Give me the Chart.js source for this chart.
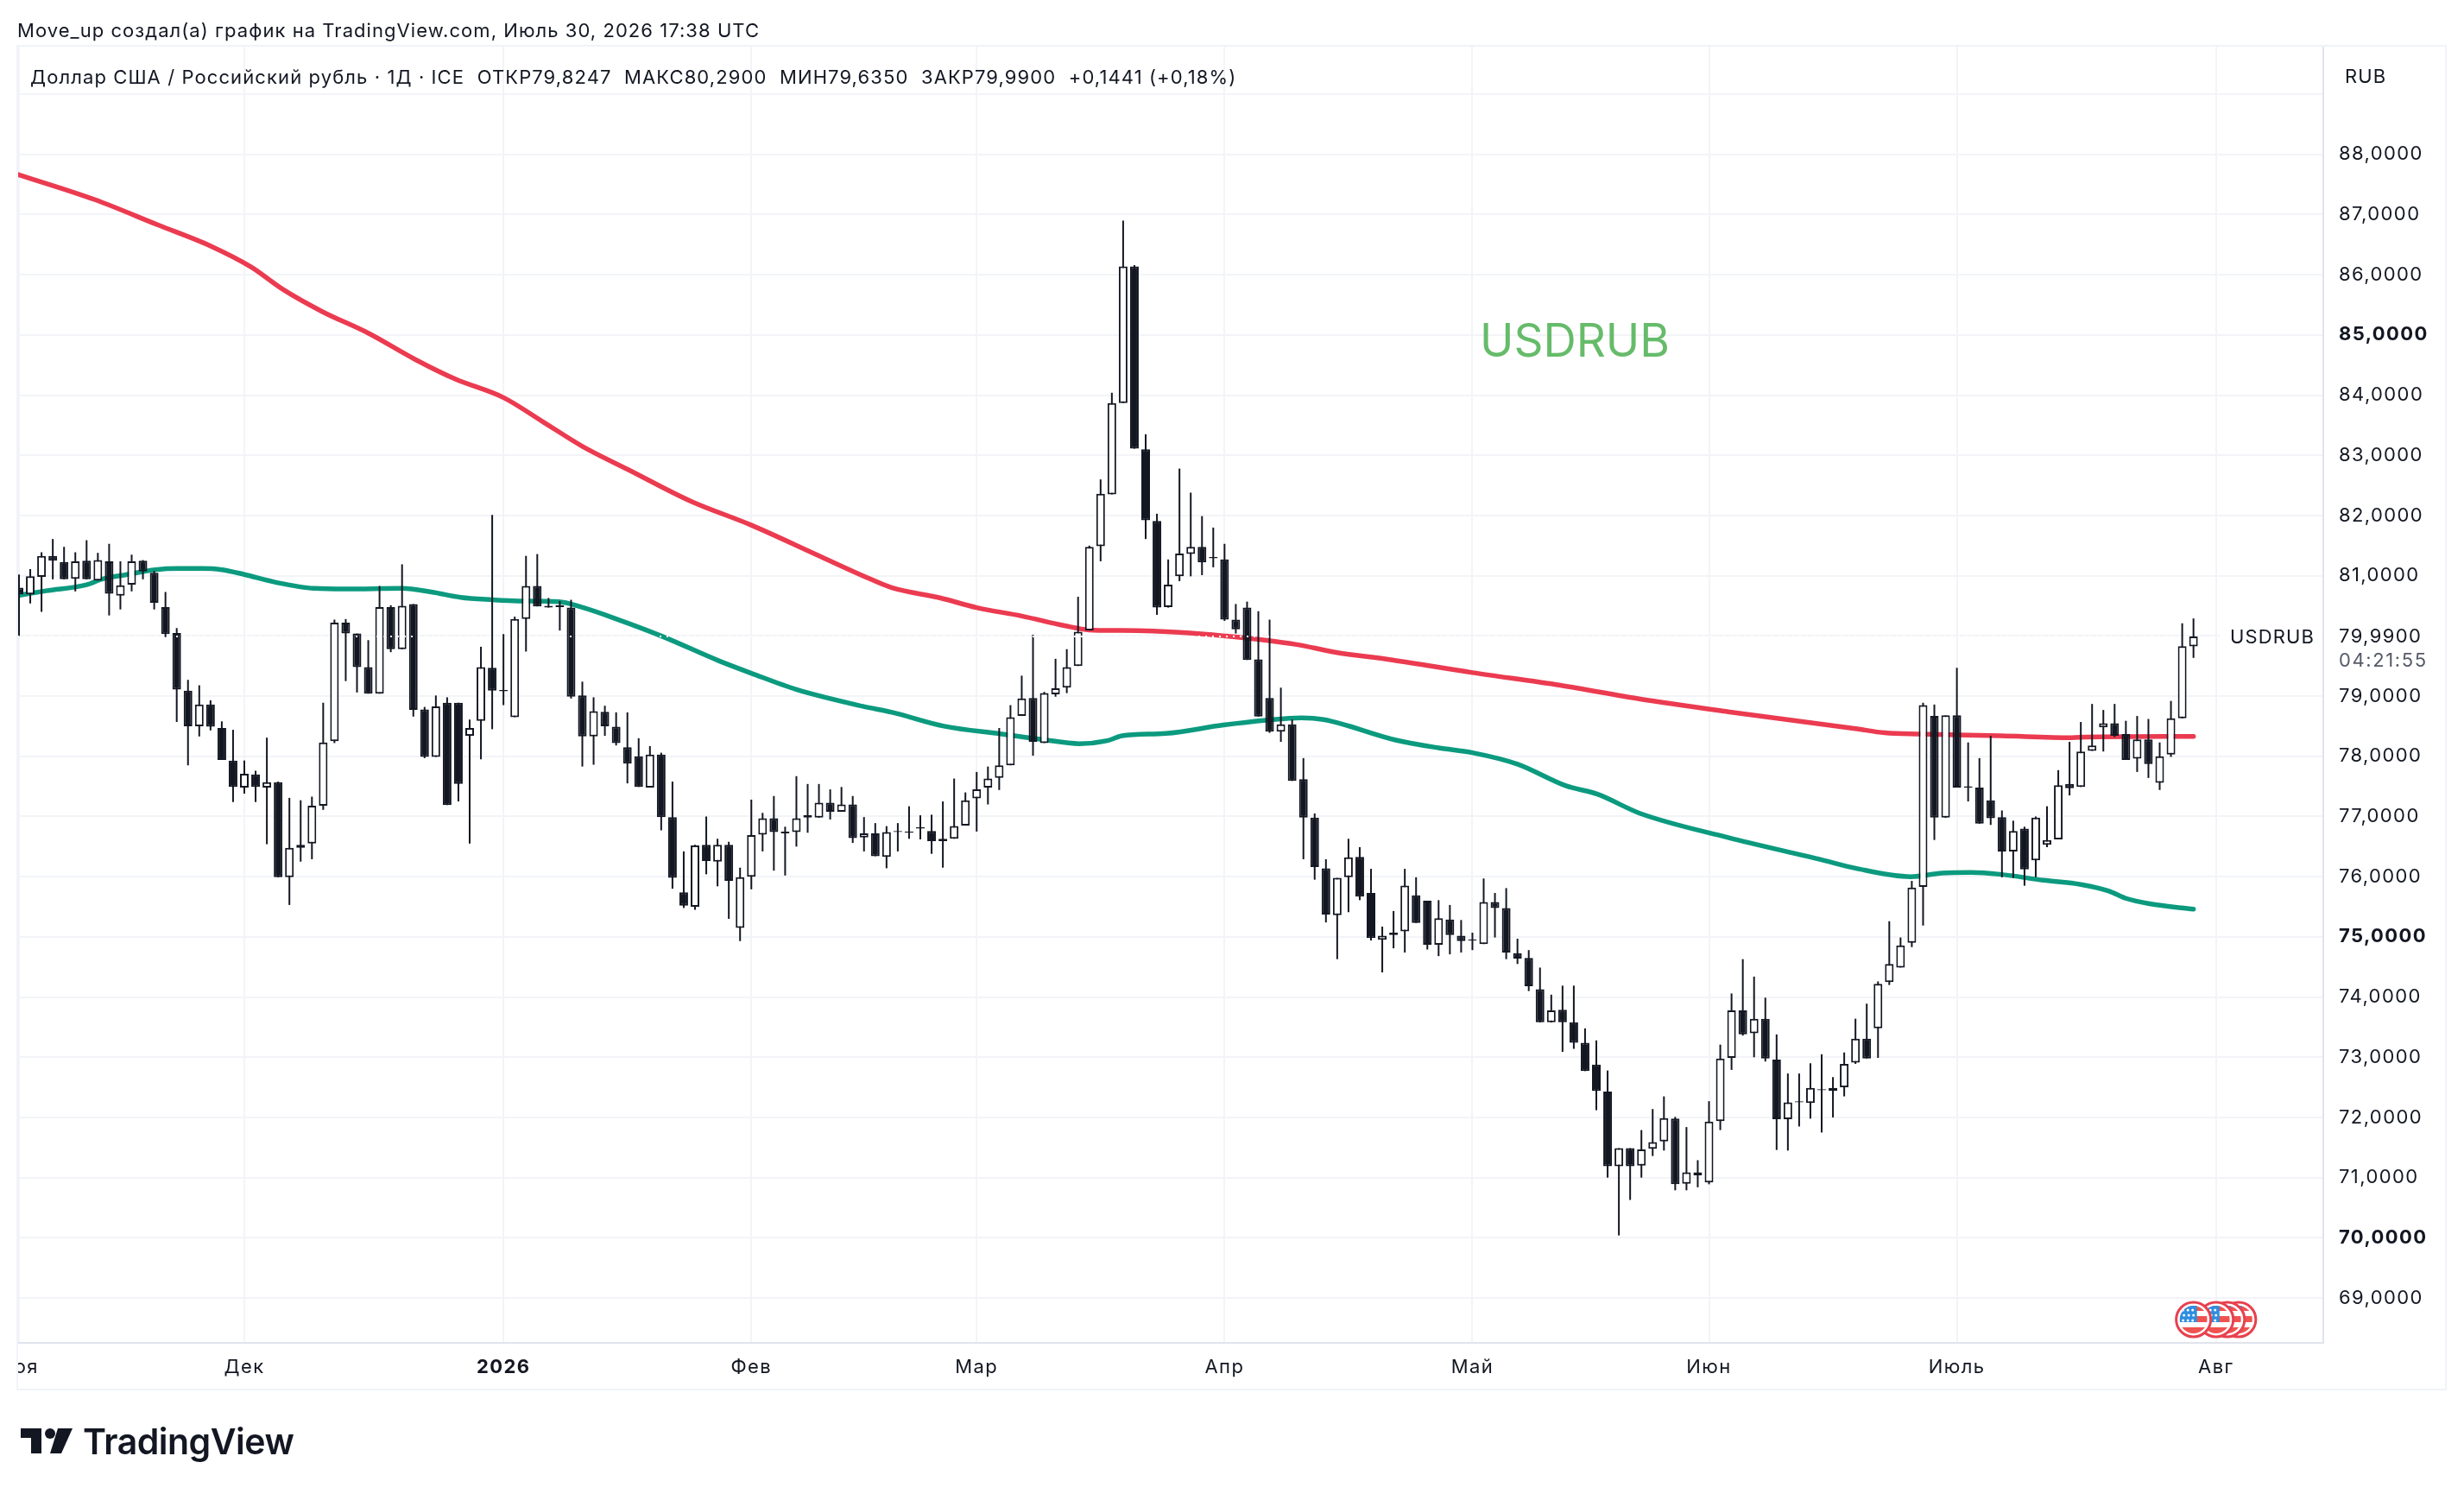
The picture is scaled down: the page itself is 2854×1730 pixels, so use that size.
<!DOCTYPE html>
<html lang="ru">
<head>
<meta charset="utf-8">
<title>USDRUB</title>
<script src="https://cdn.jsdelivr.net/npm/chart.js@4/dist/chart.umd.min.js"></script>
<style>
  html, body { margin: 0; padding: 0; background: #fff; }
  #stage { position: relative; width: 2854px; height: 1730px; overflow: hidden; font-family: Inter, sans-serif; color: #131722; }
  #chart { position: absolute; left: 0; top: 0; }
  .line { position: absolute; white-space: pre; font-size: 22px; line-height: 28px; letter-spacing: 1.05px; }
  #credit { left: 20px; top: 21px; }
  #legend { left: 35px; top: 75px; letter-spacing: 1.1px; }
  #unit { left: 2716px; top: 74px; }
  #wordmark { left: 96px; top: 1643px; font-size: 41px; line-height: 52px; font-weight: 600; letter-spacing: -0.5px; color: #131722; }
  #logo { position: absolute; left: 24px; top: 1654px; }
</style>
</head>
<body>
<div id="stage">
  <canvas id="chart" width="2854" height="1730"></canvas>
  <div class="line" id="credit">Move_up создал(а) график на TradingView.com, Июль 30, 2026 17:38 UTC</div>
  <div class="line" id="legend">Доллар США / Российский рубль · 1Д · ICE  ОТКР79,8247  МАКС80,2900  МИН79,6350  ЗАКР79,9900  +0,1441 (+0,18%)</div>
  <div class="line" id="unit">RUB</div>
  <svg id="logo" width="60" height="30" viewBox="0 0 60 30">
    <path fill="#131722" d="M0 0H24V29H12V11H0Z"/>
    <circle fill="#131722" cx="34" cy="6" r="6"/>
    <path fill="#131722" d="M43 0H60L47 29H34Z"/>
  </svg>
  <div class="line" id="wordmark">TradingView</div>
</div>
<script>
// Daily USD/RUB candles, one entry per trading session
const opens = [
  80.80,80.69,80.98,81.33,81.23,80.95,81.25,80.92,81.24,80.67,
  80.85,81.25,81.05,80.48,80.05,79.09,78.50,78.86,78.47,77.93,
  77.48,77.70,77.48,77.57,75.99,76.53,76.55,77.18,78.25,80.22,
  80.04,79.48,79.04,80.48,79.78,80.53,78.78,77.99,78.89,78.89,
  78.34,78.59,79.47,79.08,78.65,80.28,80.83,80.50,80.51,80.47,
  79.01,78.33,78.74,78.49,78.15,78.00,77.48,78.03,76.99,75.74,
  75.50,76.53,76.25,76.53,75.15,76.00,76.70,76.97,76.75,76.74,
  77.02,76.98,77.23,77.08,77.20,76.65,76.72,76.33,76.74,76.73,
  76.80,76.76,76.63,76.63,76.85,77.30,77.48,77.64,77.85,78.67,
  78.97,78.22,79.03,79.14,79.50,80.09,81.49,82.35,83.87,86.14,
  83.10,81.91,80.48,80.99,81.36,81.48,81.31,81.27,80.27,80.47,
  79.61,78.97,78.41,78.53,77.62,76.98,76.14,75.36,75.99,76.33,
  75.73,74.95,75.07,75.09,75.69,75.60,74.87,75.29,75.02,74.96,
  74.88,75.58,75.48,74.73,74.65,74.13,73.58,73.79,73.58,73.24,
  72.88,72.43,71.19,71.49,71.20,71.48,71.60,71.98,70.90,71.09,
  70.92,71.94,72.99,73.78,73.40,73.64,72.96,71.97,72.27,72.24,
  72.47,72.44,72.50,72.91,73.31,73.48,74.25,74.49,74.90,75.83,
  78.67,76.98,78.68,77.50,77.48,77.27,76.99,76.42,76.80,76.27,
  76.53,76.62,77.54,77.49,78.09,78.48,78.55,78.37,77.96,78.28,
  77.56,78.03,78.63,79.8247
];
const highs = [
  81.02,81.11,81.39,81.61,81.48,81.39,81.59,81.38,81.53,81.24,
  81.35,81.26,81.08,80.73,80.13,79.27,79.18,78.93,78.58,78.44,
  77.93,77.76,78.31,77.58,77.31,77.27,77.33,78.89,80.27,80.28,
  80.04,79.93,80.83,80.51,81.19,80.53,78.82,79.01,78.98,78.89,
  78.61,79.82,82.01,80.03,80.32,81.33,81.36,80.63,80.58,80.60,
  79.24,78.98,78.84,78.73,78.73,78.30,78.17,78.06,77.58,76.42,
  76.53,77.00,76.63,76.58,76.15,77.28,77.06,77.34,76.83,77.67,
  77.54,77.54,77.45,77.49,77.34,76.99,76.89,76.84,76.89,77.17,
  77.02,77.03,77.25,77.63,77.40,77.74,77.83,78.47,78.85,79.34,
  80.02,79.07,79.62,79.78,80.65,81.50,82.60,84.04,86.90,86.16,
  83.35,82.03,81.27,82.78,82.38,81.99,81.80,81.53,80.53,80.57,
  80.41,80.27,79.14,78.61,77.97,77.05,76.29,75.98,76.63,76.49,
  76.13,75.17,75.43,76.13,75.99,75.60,75.61,75.53,75.28,75.07,
  75.97,75.73,75.81,74.97,74.78,74.49,74.04,74.19,74.19,73.48,
  73.28,72.78,71.49,71.49,71.79,72.14,72.35,72.01,71.84,71.29,
  72.27,73.21,74.06,74.63,74.34,73.99,73.38,72.73,72.73,72.90,
  73.05,72.67,73.08,73.64,73.89,74.26,75.26,74.99,75.93,78.89,
  78.86,78.68,79.47,78.23,77.97,78.34,77.10,76.93,76.83,77.00,
  77.17,77.77,78.24,78.57,78.87,78.77,78.87,78.59,78.67,78.62,
  78.23,78.92,80.21,80.29
];
const lows = [
  80.00,80.54,80.40,80.94,80.94,80.74,80.94,80.92,80.34,80.44,
  80.74,80.94,80.44,79.98,78.57,77.85,78.33,78.43,77.94,77.24,
  77.38,77.24,76.54,75.99,75.53,76.25,76.29,77.11,78.22,79.25,
  79.06,79.04,79.04,79.73,79.78,78.66,77.97,77.99,77.19,77.25,
  76.55,77.95,78.45,78.85,78.65,79.74,80.49,80.47,80.09,78.96,
  77.83,77.86,78.34,78.18,77.55,77.49,77.48,76.77,75.80,75.48,
  75.45,76.04,75.84,75.30,74.93,75.79,76.42,76.10,76.02,76.50,
  76.73,76.98,76.95,77.08,76.56,76.42,76.34,76.14,76.42,76.63,
  76.62,76.38,76.15,76.63,76.85,76.75,77.20,77.44,77.85,78.67,
  78.01,78.22,78.99,79.05,79.50,80.09,81.24,82.35,83.87,83.11,
  81.61,80.35,80.47,80.91,80.99,81.01,81.14,80.25,80.04,79.60,
  78.66,78.39,78.24,77.59,76.29,75.95,75.24,74.63,75.41,75.61,
  74.94,74.41,74.81,74.74,75.23,74.79,74.68,74.71,74.74,74.78,
  74.88,74.99,74.63,74.55,74.10,73.58,73.58,73.09,73.14,72.77,
  72.12,71.00,70.04,70.63,71.00,71.36,71.45,70.79,70.79,70.84,
  70.89,71.79,72.79,73.36,73.00,72.93,71.46,71.45,71.85,71.98,
  71.75,72.00,72.35,72.89,72.98,72.99,74.20,74.49,74.83,75.19,
  76.61,76.98,77.48,77.25,76.88,76.86,75.99,75.98,75.85,75.99,
  76.49,76.62,77.35,77.49,78.09,78.08,78.32,77.94,77.74,77.64,
  77.44,77.99,78.63,79.635
];
const closes = [
  80.69,80.99,81.33,81.25,80.94,81.24,80.94,81.26,80.70,80.84,
  81.24,81.07,80.55,80.03,79.11,78.50,78.86,78.49,77.94,77.49,
  77.71,77.49,77.57,75.99,76.48,76.48,77.18,78.23,80.22,80.04,
  79.48,79.04,80.48,79.78,80.50,78.77,77.99,78.83,77.19,77.54,
  78.47,79.48,79.09,79.10,80.28,80.83,80.49,80.47,80.48,78.99,
  78.33,78.75,78.50,78.22,77.88,77.49,78.03,76.99,75.98,75.52,
  76.52,76.26,76.53,75.93,75.99,76.69,76.97,76.74,76.72,76.97,
  76.98,77.23,77.08,77.20,76.64,76.72,76.34,76.74,76.76,76.75,
  76.82,76.59,76.59,76.84,77.27,77.45,77.63,77.85,78.65,78.96,
  78.24,79.05,79.13,79.48,80.07,81.48,82.36,83.87,86.14,83.11,
  81.92,80.47,80.85,81.37,81.48,81.22,81.29,80.27,80.11,79.60,
  78.66,78.41,78.53,77.59,76.98,76.16,75.37,75.98,76.32,75.67,
  74.98,75.02,75.03,75.85,75.23,74.87,75.31,75.03,74.93,74.94,
  75.58,75.48,74.74,74.64,74.18,73.58,73.78,73.58,73.24,72.77,
  72.44,71.19,71.49,71.19,71.47,71.59,71.99,70.89,71.09,71.04,
  71.93,72.98,73.78,73.38,73.64,72.98,71.97,72.25,72.25,72.49,
  72.45,72.49,72.89,73.31,72.98,74.22,74.55,74.86,75.82,78.85,
  76.98,78.68,77.48,77.48,76.88,76.97,76.42,76.76,76.12,76.98,
  76.61,77.52,77.47,78.08,78.18,78.55,78.34,77.94,78.28,77.87,
  78.00,78.63,79.83,79.99
];

// Slow and fast moving averages, sampled at session numbers
const slowMaIndex = [-0.15,6.7,12.3,17.1,20.6,23.4,26.9,31,35.2,38.7,43,46.4,50,54.1,59.6,65,70.9,74.9,77.5,81.8,85,89,92.8,95,97.9,103,107,113.3,116.8,121.9,129,136.8,143.9,151.7,163,165.6,168.7,175.9,182.2,183.5,193];
const slowMaValue = [87.67,87.25,86.83,86.47,86.13,85.76,85.39,85.03,84.59,84.27,83.96,83.57,83.15,82.76,82.24,81.84,81.34,81.00,80.80,80.63,80.47,80.33,80.17,80.10,80.09,80.06,80.00,79.86,79.73,79.60,79.39,79.18,78.95,78.74,78.46,78.39,78.37,78.34,78.31,78.32,78.33];
const fastMaIndex = [-0.15,2.4,6,7.3,9.6,12.1,14.2,16.2,18,20,22.8,26.2,29,34,36.6,39.2,42,44.3,47.9,49.9,53.2,57,62.2,65,69,74.9,77.5,82.1,87.2,90.8,94.1,96.6,97.9,101.8,106.9,110.7,113.8,115.8,122.2,126,129,133,137.3,140.1,143.9,151.7,160,163,167.9,170.7,173.3,175.8,179.7,183,185.5,187,189.1,193];
const fastMaValue = [80.67,80.75,80.85,80.94,81.02,81.10,81.12,81.12,81.10,81.02,80.89,80.79,80.78,80.79,80.73,80.64,80.60,80.58,80.57,80.48,80.27,80.00,79.58,79.38,79.11,78.83,78.73,78.50,78.37,78.28,78.21,78.26,78.34,78.38,78.52,78.60,78.64,78.61,78.27,78.14,78.06,77.87,77.51,77.37,77.05,76.65,76.28,76.14,76.00,76.06,76.07,76.04,75.94,75.87,75.76,75.64,75.55,75.46];

// Axis ticks: first session of each month and whole-ruble levels
const monthIndex = [0,20,43,65,85,107,129,150,172,195];
const monthNames = ['Ноя','Дек','2026','Фев','Мар','Апр','Май','Июн','Июль','Авг'];
const priceTicks = [69,70,71,72,73,74,75,76,77,78,79,80,81,82,83,84,85,86,87,88,89];
const boldPrices = [70,75,85];
const hiddenPrices = [80,89];
const eventIndex = [197,196,195,193];

const lastClose = closes[closes.length - 1];
const dark = '#131722';
const FONT = 'Inter, sans-serif';
const sessions = opens.map((_, i) => i);

const toPoints = (xs, ys) => xs.map((x, i) => ({ x, y: ys[i] }));
const fmt = v => v.toFixed(4).replace('.', ',');
const noPadding = s => { s.paddingLeft = s.paddingRight = s.paddingTop = s.paddingBottom = 0; };

// Small US flag badge used for economic-calendar events
function drawFlag(ctx, cx, cy) {
  ctx.save();
  ctx.beginPath(); ctx.arc(cx, cy, 21, 0, Math.PI * 2);
  ctx.fillStyle = '#fff'; ctx.fill();
  ctx.lineWidth = 3; ctx.strokeStyle = '#e8404e';
  ctx.beginPath(); ctx.arc(cx, cy, 20, 0, Math.PI * 2); ctx.stroke();
  ctx.beginPath(); ctx.arc(cx, cy, 16, 0, Math.PI * 2); ctx.clip();
  ctx.fillStyle = '#ef5350';
  ctx.fillRect(cx - 16, cy - 16, 32, 6);
  ctx.fillRect(cx - 16, cy - 4, 32, 7);
  ctx.fillRect(cx - 16, cy + 9, 32, 7);
  ctx.fillStyle = '#2e8ee0';
  ctx.fillRect(cx - 16, cy - 16, 20, 19);
  ctx.fillStyle = '#fff';
  for (let r = 0; r < 3; r++) for (let c = 0; c < 3; c++) {
    ctx.beginPath();
    ctx.arc(cx - 12 + c * 5.5 + (r % 2 ? 1 : 0), cy - 11 + r * 6, 1.5, 0, Math.PI * 2);
    ctx.fill();
  }
  ctx.restore();
}

const overlay = {
  id: 'overlay',
  beforeDraw(chart) {
    chart.ctx.letterSpacing = '1.4px';
  },
  afterDraw(chart) {
    const { ctx, scales: { x, y }, chartArea: a } = chart;
    ctx.save();
    // Trim the first month label at the pane's left edge
    ctx.fillStyle = '#fff';
    ctx.fillRect(0, a.bottom + 2, a.left, 52);

    // Outer frame around panes
    ctx.strokeStyle = '#f0f3fa'; ctx.lineWidth = 2;
    ctx.strokeRect(a.left, a.top - 1, 2833 - a.left, 1609 - a.top + 1);

    // Calendar events
    eventIndex.forEach(i => drawFlag(ctx, x.getPixelForValue(i), 1528));

    // Last price label with countdown, series name
    const py = y.getPixelForValue(lastClose);
    ctx.fillStyle = '#fff';
    ctx.fillRect(a.right - 120, py - 14, 118, 30);
    ctx.font = '22px ' + FONT;
    ctx.textBaseline = 'middle'; ctx.textAlign = 'left';
    ctx.fillStyle = dark;
    ctx.fillText(fmt(lastClose), a.right + 18, py);
    ctx.letterSpacing = '1.1px';
    ctx.fillText('USDRUB', 2583, py + 1);
    ctx.letterSpacing = '1.6px';
    ctx.fillStyle = '#555a66';
    ctx.fillText('04:21:55', a.right + 18, py + 28);

    // Text note on the chart
    ctx.letterSpacing = '0px';
    ctx.fillStyle = '#66bb6a';
    ctx.font = '53px ' + FONT;
    ctx.fillText('USDRUB', 1714, 397);
    ctx.restore();
  }
};

new Chart(document.getElementById('chart'), {
  type: 'bar',
  data: {
    datasets: [
      {
        type: 'line', label: 'Last price', order: 0,
        data: toPoints([-0.15, 192.5], [lastClose, lastClose]),
        borderColor: '#ffffff', borderWidth: 2, borderDash: [2, 6],
        pointRadius: 0, tension: 0
      },
      {
        label: 'Body', order: 1,
        data: sessions.map(i => {
          const o = opens[i], c = closes[i];
          return { x: i, y: [Math.min(o, c), Math.max(o, c)] };
        }),
        backgroundColor: sessions.map(i => closes[i] >= opens[i] ? '#ffffff' : dark),
        borderColor: dark, borderWidth: 2, borderSkipped: false,
        barThickness: 10, grouped: false, inflateAmount: 0
      },
      {
        label: 'Wick', order: 2,
        data: sessions.map(i => ({ x: i, y: [lows[i], highs[i]] })),
        backgroundColor: dark, borderWidth: 0,
        barThickness: 2, grouped: false, inflateAmount: 0
      },
      {
        type: 'line', label: 'MA fast', order: 3,
        data: toPoints(fastMaIndex, fastMaValue),
        borderColor: '#0c9a7f', borderWidth: 5.5, pointRadius: 0,
        cubicInterpolationMode: 'monotone', borderCapStyle: 'round', borderJoinStyle: 'round'
      },
      {
        type: 'line', label: 'MA slow', order: 4,
        data: toPoints(slowMaIndex, slowMaValue),
        borderColor: '#eb3b50', borderWidth: 5.5, pointRadius: 0,
        cubicInterpolationMode: 'monotone', borderCapStyle: 'round', borderJoinStyle: 'round'
      }
    ]
  },
  options: {
    responsive: false,
    animation: false,
    layout: { padding: { left: 20, top: 54, right: 21, bottom: 121 } },
    plugins: { legend: { display: false }, tooltip: { enabled: false } },
    scales: {
      x: {
        type: 'linear', offset: false, min: -0.153, max: 204.52,
        grid: { color: '#f3f4f8', lineWidth: 2, drawTicks: false, offset: false },
        border: { color: '#e0e3eb', width: 2 },
        afterBuildTicks(s) { s.ticks = monthIndex.map(value => ({ value })); },
        afterFit(s) { s.height = 54; noPadding(s); },
        ticks: {
          autoSkip: false, maxRotation: 0, padding: 15, color: dark,
          font: c => ({ family: FONT, size: 22, weight: c.tick && c.tick.value === 43 ? '700' : '400' }),
          callback: v => monthNames[monthIndex.indexOf(v)] || ''
        }
      },
      y: {
        type: 'linear', position: 'right', min: 68.255, max: 89.79,
        grid: { color: '#f3f4f8', lineWidth: 2, drawTicks: false },
        border: { color: '#e0e3eb', width: 2 },
        afterBuildTicks(s) { s.ticks = priceTicks.map(value => ({ value })); },
        afterFit(s) { s.width = 142; noPadding(s); },
        ticks: {
          autoSkip: false, padding: 18, color: dark, crossAlign: 'near',
          font: c => ({ family: FONT, size: 22, weight: c.tick && boldPrices.includes(c.tick.value) ? '700' : '400' }),
          callback: v => hiddenPrices.includes(v) ? '' : fmt(v)
        }
      }
    }
  },
  plugins: [overlay]
});
</script>
</body>
</html>
